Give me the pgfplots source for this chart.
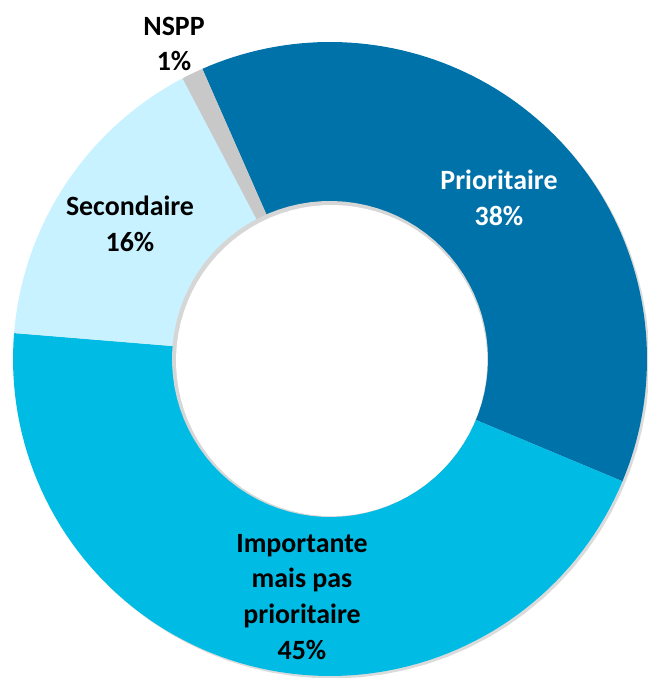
\documentclass[border=0pt]{standalone}
\usepackage{pgfplots}
\pgfplotsset{compat=1.18}
\usepackage{pgfplotstable}
\usepackage{fontspec}
\setmainfont{Carlito}

\definecolor{prio}{RGB}{0,114,170}
\definecolor{impo}{RGB}{0,187,228}
\definecolor{seco}{RGB}{200,242,255}
\definecolor{nspp}{RGB}{200,200,200}

% share of each slice, in %, clockwise from the top-left
\pgfplotstableread{
label value
Prioritaire 37.9
Importante 45.0
Secondaire 16.0
NSPP 1.1
}\shares

\tikzset{lbl/.style={font=\bfseries\fontsize{28}{36}\selectfont, align=center, inner sep=0pt}}

\begin{document}
\begin{tikzpicture}
\pgfplotstablegetelem{0}{value}\of\shares \let\vA\pgfplotsretval
\pgfplotstablegetelem{1}{value}\of\shares \let\vB\pgfplotsretval
\pgfplotstablegetelem{2}{value}\of\shares \let\vC\pgfplotsretval
\pgfplotstablegetelem{3}{value}\of\shares \let\vD\pgfplotsretval
\pgfmathsetmacro\aA{113.75}
\pgfmathsetmacro\aB{\aA-3.6*\vA}
\pgfmathsetmacro\aC{\aB-3.6*\vB}
\pgfmathsetmacro\aD{\aC-3.6*\vC}
\pgfmathsetmacro\aE{\aD-3.6*\vD}
\def\cx{330}\def\cy{319}\def\R{317}\def\r{158}
\begin{axis}[
    scale only axis,
    width=648bp, height=678bp,
    xmin=0, xmax=648, ymin=0, ymax=678,
    axis line style={draw=none},
    ticks=none,
    clip=true,
    samples=90,
]
  % drop shadow
  \addplot[fill=black!14, draw=none, domain=0:360, variable=\t]
    ({\cx+2.5+\R*cos(t)},{\cy-2.5+\R*sin(t)}) -- cycle;
  % slices
  \addplot[fill=prio, draw=none, domain=\aB:\aA, variable=\t]
    ({\cx+\R*cos(t)},{\cy+\R*sin(t)}) -- (axis cs:\cx,\cy) -- cycle;
  \addplot[fill=impo, draw=none, domain=\aC:\aB, variable=\t]
    ({\cx+\R*cos(t)},{\cy+\R*sin(t)}) -- (axis cs:\cx,\cy) -- cycle;
  \addplot[fill=seco, draw=none, domain=\aD:\aC, variable=\t]
    ({\cx+\R*cos(t)},{\cy+\R*sin(t)}) -- (axis cs:\cx,\cy) -- cycle;
  \addplot[fill=nspp, draw=none, domain=\aE:\aD, samples=10, variable=\t]
    ({\cx+\R*cos(t)},{\cy+\R*sin(t)}) -- (axis cs:\cx,\cy) -- cycle;
  % hole, with its inner shadow
  \addplot[fill=black!16, draw=none, domain=0:360, variable=\t]
    ({\cx+\r*cos(t)},{\cy+\r*sin(t)}) -- cycle;
  \addplot[fill=white, draw=none, domain=0:360, variable=\t]
    ({\cx+1.6+(\r-2.4)*cos(t)},{\cy-1.6+(\r-2.4)*sin(t)}) -- cycle;
  % labels
  \node[lbl, text=white] at (axis cs:499,480) {Prioritaire\\38\%};
  \node[lbl] at (axis cs:302,81) {Importante\\mais pas\\prioritaire\\45\%};
  \node[lbl] at (axis cs:130,454) {Secondaire\\16\%};
  \node[lbl] at (axis cs:174,634) {NSPP\\1\%};
\end{axis}
\end{tikzpicture}
\end{document}
